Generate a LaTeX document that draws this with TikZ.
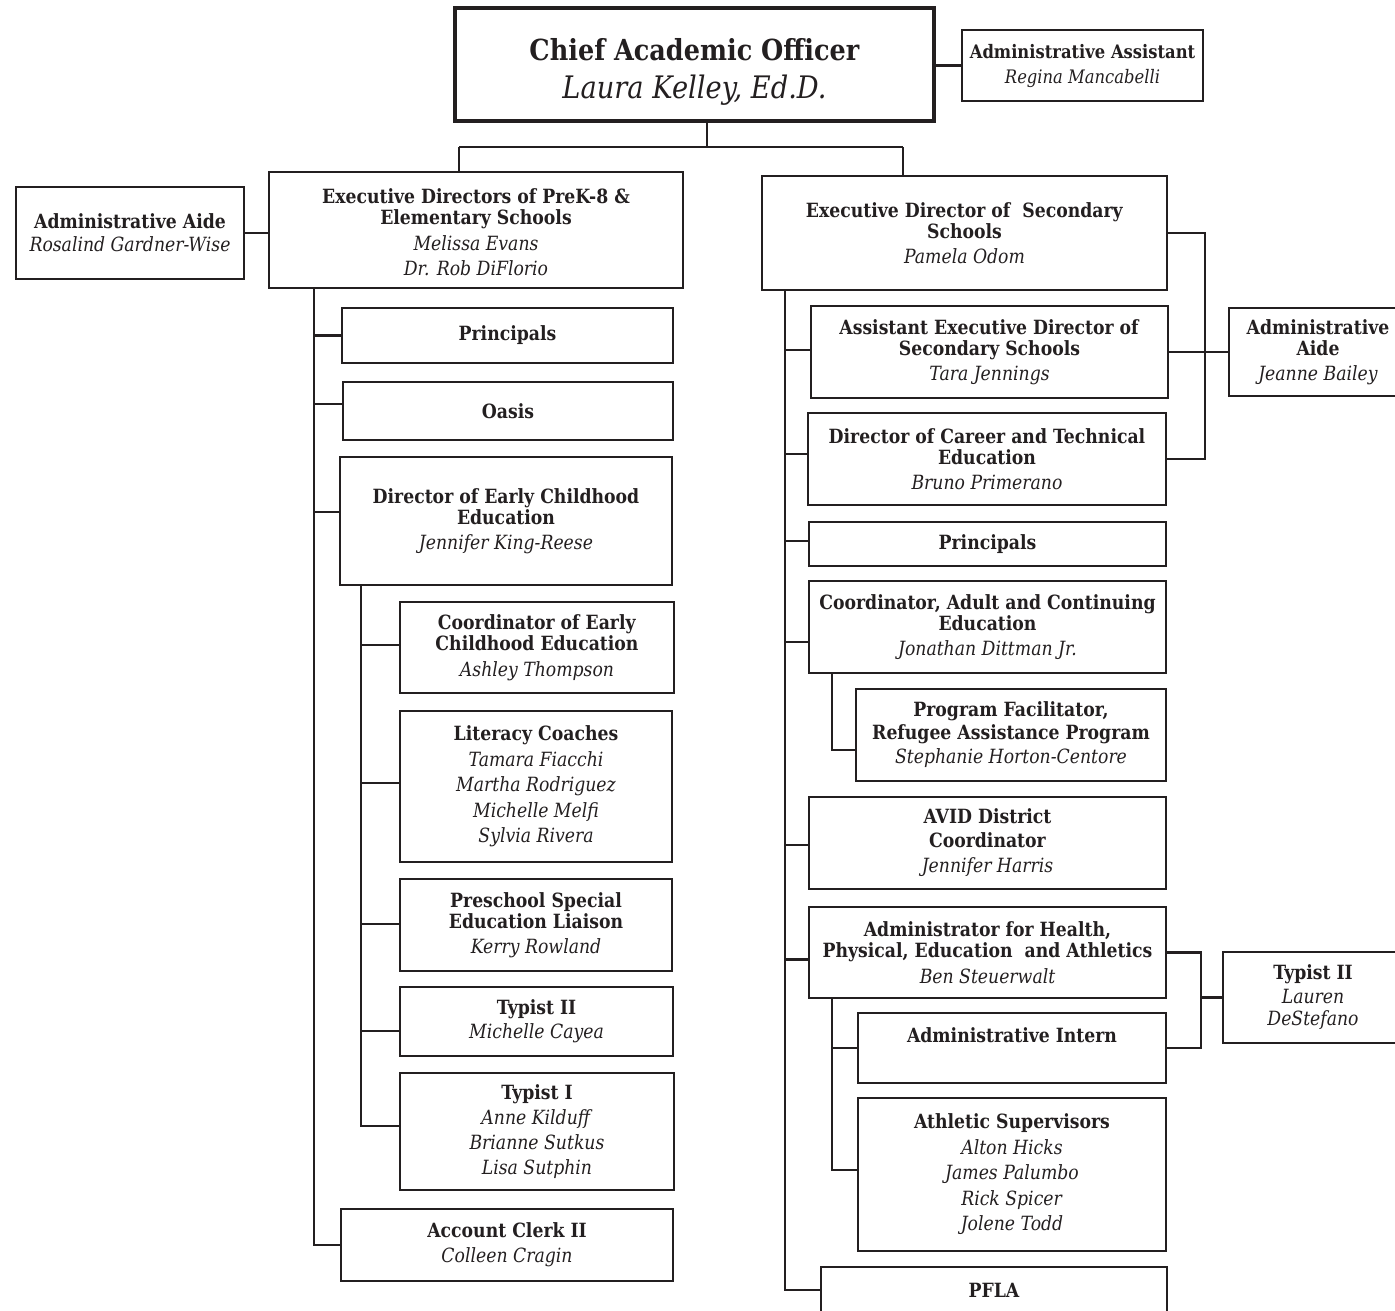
\documentclass[tikz,border=0pt]{standalone}
\usepackage{fontspec}
\setmainfont{DejaVu Serif}[FakeStretch=0.88]
\usetikzlibrary{calc}
\definecolor{ink}{HTML}{231F20}
\tikzstyle{unit} = [draw=ink, text=ink, line width=2.2pt, rectangle, align=center,
   inner sep=0pt, font=\fontsize{19.6}{21}\selectfont]
\tikzstyle{link} = [draw=ink, line width=2.2pt]
\tikzset{dims/.style 2 args={minimum width=#1, minimum height=#2}}

\begin{document}
\begin{tikzpicture}[x=1pt, y=-1pt]
  \useasboundingbox (0,0) rectangle (1395,1310);
  \clip (0,0) rectangle (1395,1310);

  % top of the chart
  \node[unit, line width=4.5pt, dims={479}{113}, font=\fontsize{29}{38}\selectfont] (cao) at (694.5,64.5)
    {\rule{0pt}{36pt}\textbf{Chief Academic Officer}\\ {\fontsize{31}{38}\selectfont\itshape Laura Kelley, Ed.D.}};
  \node[unit, dims={241}{71}, font=\fontsize{18.6}{21}\selectfont] (asst) at (1082.5,65.5)
    {\textbf{Administrative Assistant}\\[4pt] \textit{Regina Mancabelli}};
  \node[unit, dims={228}{92}] (aideL) at (130,233)
    {\textbf{Administrative Aide}\\[2pt] \textit{Rosalind Gardner-Wise}};
  \node[unit, dims={414}{116}] (elem) at (476,230)
    {\rule{0pt}{20pt}\textbf{Executive Directors of PreK-8 \&}\\ \textbf{Elementary Schools}\\[4.5pt]
     \textit{Melissa Evans}\\[4.5pt] \textit{Dr. Rob DiFlorio}};
  \node[unit, dims={405}{114}] (secy) at (964.5,233)
    {\textbf{Executive Director of~ Secondary}\\ \textbf{Schools}\\[4.5pt] \textit{Pamela Odom}};

  % elementary side
  \node[unit, dims={331}{55}] (prinL) at (507.5,335.5) {\textbf{Principals}};
  \node[unit, dims={330}{58}] (oasis) at (508,411) {\textbf{Oasis}};
  \node[unit, dims={332}{128}] (earlyDir) at (506,521)
    {\textbf{Director of Early Childhood}\\ \textbf{Education}\\[4.5pt] \textit{Jennifer King-Reese}};
  \node[unit, dims={274}{91}] (earlyCoord) at (537,647.5)
    {\textbf{Coordinator of Early}\\ \textbf{Childhood Education}\\[4.5pt] \textit{Ashley Thompson}};
  \node[unit, dims={272}{151}] (literacy) at (536,786.5)
    {\textbf{Literacy Coaches}\\[4.5pt] \textit{Tamara Fiacchi}\\[4.5pt] \textit{Martha Rodriguez}\\[4.5pt]
     \textit{Michelle Melfi}\\[4.5pt] \textit{Sylvia Rivera}};
  \node[unit, dims={272}{92}] (preschool) at (536,925)
    {\textbf{Preschool Special}\\ \textbf{Education Liaison}\\[4.5pt] \textit{Kerry Rowland}};
  \node[unit, dims={273}{69}] (typist2L) at (536.5,1021.5)
    {\textbf{Typist II}\\[3pt] \textit{Michelle Cayea}};
  \node[unit, dims={274}{117}] (typist1) at (537,1131.5)
    {\textbf{Typist I}\\[4pt] \textit{Anne Kilduff}\\[4pt] \textit{Brianne Sutkus}\\[4pt] \textit{Lisa Sutphin}};
  \node[unit, dims={332}{72}] (clerk) at (507,1245)
    {\textbf{Account Clerk II}\\[4pt] \textit{Colleen Cragin}};

  % secondary side
  \node[unit, dims={357}{92}] (asstExec) at (989.5,352)
    {\textbf{Assistant Executive Director of}\\ \textbf{Secondary Schools}\\[4.5pt] \textit{Tara Jennings}};
  \node[unit, dims={178}{88}] (aideR) at (1318,352)
    {\textbf{Administrative}\\ \textbf{Aide}\\[4.5pt] \textit{Jeanne Bailey}};
  \node[unit, dims={358}{92}] (cte) at (987,459)
    {\textbf{Director of Career and Technical}\\ \textbf{Education}\\[4.5pt] \textit{Bruno Primerano}};
  \node[unit, dims={357}{44}] (prinR) at (987.5,544) {\textbf{Principals}};
  \node[unit, dims={357}{92}] (adult) at (987.5,627)
    {\textbf{Coordinator, Adult and Continuing}\\ \textbf{Education}\\[4.5pt] \textit{Jonathan Dittman Jr.}};
  \node[unit, dims={310}{92}] (refugee) at (1011,735)
    {\textbf{Program Facilitator,}\\[2pt] \textbf{Refugee Assistance Program}\\[3pt] \textit{Stephanie Horton-Centore}};
  \node[unit, dims={357}{92}] (avid) at (987.5,843)
    {\textbf{AVID District}\\[3pt] \textbf{Coordinator}\\[4pt] \textit{Jennifer Harris}};
  \node[unit, dims={357}{91}] (health) at (987.5,952.5)
    {\textbf{Administrator for Health,}\\ \textbf{Physical, Education~ and Athletics}\\[4.5pt] \textit{Ben Steuerwalt}};
  \node[unit, dims={308}{70}] (intern) at (1012,1048)
    {\textbf{Administrative Intern}\\[4.5pt] ~};
  \node[unit, dims={308}{153}] (athletic) at (1012,1174.5)
    {\textbf{Athletic Supervisors}\\[4.5pt] \textit{Alton Hicks}\\[4.5pt] \textit{James Palumbo}\\[4.5pt]
     \textit{Rick Spicer}\\[4.5pt] \textit{Jolene Todd}};
  \node[unit, dims={180}{91}] (typistR) at (1313,997.5)
    {\textbf{Typist II}\\[3pt] \textit{Lauren}\\[1pt] \textit{DeStefano}};
  \node[unit, dims={346}{46}] (pfla) at (994,1290) {\textbf{PFLA}};

  % connectors from the top
  \coordinate (split) at (707,147);
  \coordinate (dropL) at (459,147);
  \coordinate (dropR) at (903,147);
  \draw[link] (cao.south -| split) -- (split);
  \draw[link] (dropL) -- (dropR);
  \draw[link] (dropL) -- (dropL |- elem.north);
  \draw[link] (dropR) -- (dropR |- secy.north);
  \draw[link] (cao.east |- asst.west) -- (asst.west);
  \draw[link] (aideL.east) -- (aideL.east -| elem.west);

  % elementary spines
  \coordinate (spineL) at (314,0);
  \coordinate (subL) at (361,0);
  \draw[link] (elem.south -| spineL) |- (clerk.west);
  \foreach \n/\dy in {prinL/0, oasis/-7, earlyDir/-9} {
    \path ($(\n.west)+(0,\dy)$) coordinate (tap);
    \draw[link] (tap -| spineL) -- (tap);
  }
  \path ($(typist1.west)+(0,-5.5)$) coordinate (tap);
  \draw[link] (earlyDir.south -| subL) |- (tap);
  \foreach \n/\dy in {earlyCoord/-2.5, literacy/-3.5, preschool/-1, typist2L/9.5} {
    \path ($(\n.west)+(0,\dy)$) coordinate (tap);
    \draw[link] (tap -| subL) -- (tap);
  }

  % secondary spines
  \coordinate (spineR) at (785,0);
  \coordinate (subR) at (832,0);
  \draw[link] (secy.south -| spineR) |- (pfla.west);
  \foreach \n/\dy in {asstExec/-2, cte/-5, prinR/-3, adult/15, avid/2, health/7} {
    \path ($(\n.west)+(0,\dy)$) coordinate (tap);
    \draw[link] (tap -| spineR) -- (tap);
  }
  \path ($(refugee.west)+(0,15)$) coordinate (tap);
  \draw[link] (adult.south -| subR) |- (tap);
  \path ($(athletic.west)+(0,-4.5)$) coordinate (tap);
  \draw[link] (health.south -| subR) |- (tap);
  \draw[link] (intern.west -| subR) -- (intern.west);

  % aides and typist on the right
  \coordinate (aideJoin) at (1205,0);
  \coordinate (typJoin) at (1201,0);
  \draw[link] (secy.east) -| (aideJoin |- cte.east) -- (cte.east);
  \draw[link] (asstExec.east) -- (aideR.west);
  \draw[link] (health.east) -| (typJoin |- intern.east) -- (intern.east);
  \draw[link] (typistR.west) -- (typistR.west -| typJoin);
\end{tikzpicture}
\end{document}
